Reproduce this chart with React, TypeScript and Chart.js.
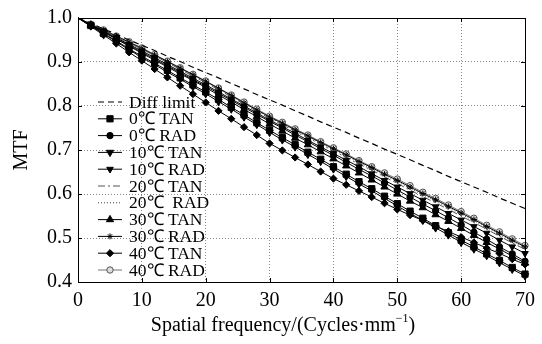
import React, { useEffect, useRef } from "react";
import { Chart, registerables } from "chart.js";
import { drawPoint } from "chart.js/helpers";

Chart.register(...registerables);

const freq = [0, 2, 4, 6, 8, 10, 12, 14, 16, 18, 20, 22, 24, 26, 28, 30, 32, 34, 36, 38, 40, 42, 44, 46, 48, 50, 52, 54, 56, 58, 60, 62, 64, 66, 68, 70];

const diffLimit = [1.000, 0.988, 0.975, 0.963, 0.950, 0.938, 0.926, 0.913, 0.901, 0.888, 0.876, 0.864, 0.851, 0.839, 0.826, 0.814, 0.802, 0.789, 0.777, 0.764, 0.752, 0.740, 0.727, 0.715, 0.702, 0.690, 0.678, 0.665, 0.653, 0.640, 0.628, 0.616, 0.604, 0.591, 0.579, 0.567];
const tan0 = [1.000, 0.983, 0.965, 0.948, 0.930, 0.913, 0.897, 0.881, 0.864, 0.848, 0.832, 0.815, 0.797, 0.780, 0.762, 0.745, 0.728, 0.712, 0.695, 0.679, 0.662, 0.645, 0.628, 0.612, 0.595, 0.578, 0.561, 0.545, 0.528, 0.512, 0.495, 0.480, 0.464, 0.449, 0.433, 0.418];
const rad0 = [1.000, 0.984, 0.969, 0.953, 0.938, 0.922, 0.907, 0.891, 0.876, 0.860, 0.845, 0.829, 0.813, 0.797, 0.781, 0.765, 0.750, 0.734, 0.719, 0.703, 0.688, 0.672, 0.656, 0.641, 0.625, 0.609, 0.593, 0.577, 0.562, 0.546, 0.530, 0.513, 0.497, 0.480, 0.464, 0.447];
const tan10 = [1.000, 0.982, 0.964, 0.946, 0.928, 0.910, 0.894, 0.877, 0.861, 0.844, 0.828, 0.810, 0.793, 0.775, 0.758, 0.740, 0.723, 0.707, 0.690, 0.674, 0.657, 0.640, 0.623, 0.607, 0.590, 0.573, 0.556, 0.540, 0.523, 0.507, 0.490, 0.475, 0.460, 0.444, 0.429, 0.414];
const rad10 = [1.000, 0.985, 0.970, 0.955, 0.940, 0.925, 0.910, 0.894, 0.879, 0.863, 0.848, 0.832, 0.816, 0.800, 0.784, 0.768, 0.753, 0.738, 0.722, 0.707, 0.692, 0.677, 0.662, 0.646, 0.631, 0.616, 0.601, 0.586, 0.571, 0.556, 0.541, 0.526, 0.511, 0.495, 0.480, 0.465];
const tan20 = [1.000, 0.986, 0.972, 0.957, 0.943, 0.929, 0.914, 0.899, 0.883, 0.868, 0.853, 0.837, 0.821, 0.804, 0.788, 0.772, 0.757, 0.742, 0.728, 0.713, 0.698, 0.683, 0.668, 0.654, 0.639, 0.624, 0.609, 0.594, 0.580, 0.565, 0.550, 0.535, 0.520, 0.504, 0.489, 0.474];
const rad20 = [1.000, 0.986, 0.972, 0.958, 0.944, 0.930, 0.915, 0.900, 0.885, 0.870, 0.855, 0.839, 0.823, 0.806, 0.790, 0.774, 0.759, 0.745, 0.730, 0.716, 0.701, 0.686, 0.672, 0.657, 0.643, 0.628, 0.613, 0.598, 0.584, 0.569, 0.554, 0.539, 0.524, 0.508, 0.493, 0.478];
const tan30 = [1.000, 0.984, 0.968, 0.952, 0.936, 0.920, 0.904, 0.889, 0.873, 0.858, 0.842, 0.825, 0.809, 0.792, 0.776, 0.759, 0.743, 0.727, 0.712, 0.696, 0.680, 0.664, 0.648, 0.632, 0.616, 0.600, 0.584, 0.569, 0.553, 0.538, 0.522, 0.506, 0.490, 0.475, 0.459, 0.443];
const rad30 = [1.000, 0.986, 0.972, 0.959, 0.945, 0.931, 0.916, 0.901, 0.886, 0.871, 0.856, 0.840, 0.824, 0.807, 0.791, 0.775, 0.761, 0.746, 0.732, 0.717, 0.703, 0.689, 0.674, 0.660, 0.645, 0.631, 0.616, 0.601, 0.587, 0.572, 0.557, 0.542, 0.526, 0.511, 0.495, 0.480];
const tan40 = [1.000, 0.981, 0.961, 0.942, 0.922, 0.903, 0.884, 0.865, 0.846, 0.827, 0.808, 0.789, 0.771, 0.752, 0.734, 0.715, 0.699, 0.683, 0.667, 0.651, 0.635, 0.621, 0.607, 0.593, 0.579, 0.565, 0.552, 0.540, 0.527, 0.515, 0.502, 0.490, 0.477, 0.465, 0.452, 0.440];
const rad40 = [1.000, 0.986, 0.973, 0.959, 0.946, 0.932, 0.917, 0.902, 0.887, 0.872, 0.857, 0.841, 0.825, 0.809, 0.793, 0.777, 0.763, 0.748, 0.734, 0.719, 0.705, 0.691, 0.676, 0.662, 0.648, 0.634, 0.619, 0.604, 0.590, 0.575, 0.560, 0.545, 0.529, 0.514, 0.498, 0.483];

const seriesLabels = ["Diff limit", "0℃ TAN", "0℃ RAD", "10℃ TAN", "10℃ RAD", "20℃ TAN", "20℃  RAD", "30℃ TAN", "30℃ RAD", "40℃ TAN", "40℃ RAD"];
const xTicks = [0, 10, 20, 30, 40, 50, 60, 70];
const yTicks = [0.4, 0.5, 0.6, 0.7, 0.8, 0.9, 1.0];
const xTitleMain = "Spatial frequency/(Cycles·mm";
const xTitleSup = "−1";
const yTitle = "MTF";

const FONT = "'Liberation Serif', 'Times New Roman', serif";

export default function App() {
  const ref = useRef<HTMLCanvasElement>(null);

  useEffect(() => {
    document.body.style.margin = "0";
    const canvas = ref.current;
    if (!canvas) return;
    const mk = (vals: number[]) => freq.map((x, i) => ({ x, y: vals[i] }));
    const values = [diffLimit, tan0, rad0, tan10, rad10, tan20, rad20, tan30, rad30, tan40, rad40];
    const styles: any[] = [
      { borderColor: "#000", borderDash: [6, 4], pointStyle: false, r: 0, borderWidth: 1.2 },
      { borderColor: "#000", pointStyle: "rect", r: 4.4, fill: "#000" },
      { borderColor: "#000", pointStyle: "circle", r: 3.2, fill: "#000" },
      { borderColor: "#000", pointStyle: "triangle", rot: 180, r: 4.2, fill: "#000" },
      { borderColor: "#000", pointStyle: "triangle", rot: 180, r: 3.8, fill: "#000" },
      { borderColor: "#555", borderDash: [7, 3, 2, 3], pointStyle: false, r: 0 },
      { borderColor: "#444", borderDash: [1, 2], pointStyle: false, r: 0 },
      { borderColor: "#000", pointStyle: "triangle", r: 4.2, fill: "#000" },
      { borderColor: "#000", pointStyle: "star", r: 3, fill: "#000" },
      { borderColor: "#000", pointStyle: "rectRot", r: 3.6, fill: "#000" },
      { borderColor: "#777", pointStyle: "circle", r: 3.2, fill: "#ddd", pb: "#555" },
    ];
    const datasets = values.map((v, i) => {
      const s = styles[i];
      return {
        label: seriesLabels[i],
        data: mk(v),
        borderColor: s.borderColor,
        borderWidth: s.borderWidth ?? 1,
        borderDash: s.borderDash ?? [],
        pointStyle: s.pointStyle,
        pointRotation: s.rot ?? 0,
        pointRadius: (c: any) => (c.dataIndex === 0 ? 0 : s.r),
        pointBackgroundColor: s.fill ?? "#000",
        pointBorderColor: s.pb ?? s.borderColor,
        pointBorderWidth: 1,
        tension: 0,
        clip: 8,
        fill: false,
      };
    });

    const framePlugin = {
      id: "frameAndLegend",
      afterDraw(chart: any) {
        const { ctx, chartArea: a } = chart;
        const xs = chart.scales.x;
        const ys = chart.scales.y;
        ctx.save();
        ctx.strokeStyle = "#000";
        ctx.lineWidth = 1;
        ctx.setLineDash([]);
        ctx.strokeRect(Math.round(a.left) + 0.5, Math.round(a.top) + 0.5, Math.round(a.right - a.left), Math.round(a.bottom - a.top));
        ctx.beginPath();
        const tl = 4;
        xTicks.forEach((t) => {
          const px = Math.round(xs.getPixelForValue(t)) + 0.5;
          ctx.moveTo(px, a.bottom);
          ctx.lineTo(px, a.bottom - tl);
          ctx.moveTo(px, a.top);
          ctx.lineTo(px, a.top + tl);
        });
        yTicks.forEach((t) => {
          const py = Math.round(ys.getPixelForValue(t)) + 0.5;
          ctx.moveTo(a.left, py);
          ctx.lineTo(a.left + tl, py);
          ctx.moveTo(a.right, py);
          ctx.lineTo(a.right - tl, py);
        });
        ctx.stroke();

        // axis titles
        ctx.fillStyle = "#000";
        ctx.font = `20px ${FONT}`;
        ctx.textBaseline = "middle";
        ctx.textAlign = "left";
        const mainW = ctx.measureText(xTitleMain).width;
        ctx.font = `12px ${FONT}`;
        const supW = ctx.measureText(xTitleSup).width;
        ctx.font = `20px ${FONT}`;
        const closeW = ctx.measureText(")").width;
        const total = mainW + supW + closeW;
        const cx = 283;
        const ty = 326;
        let x0 = cx - total / 2;
        ctx.fillText(xTitleMain, x0, ty);
        ctx.font = `12px ${FONT}`;
        ctx.fillText(xTitleSup, x0 + mainW, ty - 7);
        ctx.font = `20px ${FONT}`;
        ctx.fillText(")", x0 + mainW + supW, ty);

        ctx.save();
        ctx.translate(22, (a.top + a.bottom) / 2);
        ctx.rotate(-Math.PI / 2);
        ctx.textAlign = "center";
        ctx.fillText(yTitle, 0, 0);
        ctx.restore();

        // legend inside the plot
        const lx0 = a.left + 20;
        const lx1 = a.left + 44;
        const tx = a.left + 51;
        const ty0 = a.top + 84;
        const step = 16.8;
        ctx.font = `17.5px ${FONT}`;
        ctx.textBaseline = "middle";
        ctx.textAlign = "left";
        chart.data.datasets.forEach((ds: any, i: number) => {
          const s = styles[i];
          const y = ty0 + i * step;
          ctx.strokeStyle = ds.borderColor;
          ctx.lineWidth = ds.borderWidth;
          ctx.setLineDash(ds.borderDash || []);
          ctx.beginPath();
          ctx.moveTo(lx0, y);
          ctx.lineTo(lx1, y);
          ctx.stroke();
          ctx.setLineDash([]);
          if (s.pointStyle) {
            ctx.fillStyle = ds.pointBackgroundColor;
            ctx.strokeStyle = ds.pointBorderColor;
            ctx.lineWidth = 1;
            drawPoint(ctx, { pointStyle: s.pointStyle, radius: s.r, rotation: s.rot ?? 0, borderWidth: 1 } as any, (lx0 + lx1) / 2, y);
          }
          ctx.fillStyle = "#000";
          ctx.fillText(ds.label, tx, y + 1);
        });
        ctx.restore();
      },
    };

    const chart = new Chart(canvas, {
      type: "line",
      data: { datasets },
      options: {
        animation: false,
        responsive: false,
        maintainAspectRatio: false,
        layout: { padding: { top: 18, right: 9, left: 0, bottom: 0 } },
        plugins: { legend: { display: false }, tooltip: { enabled: false } },
        elements: { line: { borderCapStyle: "butt" } },
        scales: {
          x: {
            type: "linear",
            min: 0,
            max: 70,
            afterBuildTicks: (sc: any) => {
              sc.ticks = xTicks.map((v) => ({ value: v }));
            },
            afterFit: (sc: any) => {
              sc.height = 62;
            },
            ticks: {
              color: "#000",
              font: { family: FONT, size: 20 },
              padding: 7,
              maxRotation: 0,
              callback: (v: any) => String(v),
            },
            grid: {
              color: "#888",
              lineWidth: 1,
              drawTicks: false,
            },
            border: { display: false, dash: [1, 2] },
            title: { display: false },
          },
          y: {
            type: "linear",
            min: 0.4,
            max: 1.0,
            afterBuildTicks: (sc: any) => {
              sc.ticks = yTicks.map((v) => ({ value: v }));
            },
            afterFit: (sc: any) => {
              sc.width = 78;
            },
            ticks: {
              color: "#000",
              font: { family: FONT, size: 20 },
              padding: 6,
              callback: (v: any) => Number(v).toFixed(1),
            },
            grid: {
              color: "#888",
              lineWidth: 1,
              drawTicks: false,
            },
            border: { display: false, dash: [1, 2] },
            title: { display: false },
          },
        },
      },
      plugins: [framePlugin],
    });
    return () => chart.destroy();
  }, []);

  return (
    <div style={{ width: 542, height: 344, background: "#fff" }}>
      <canvas ref={ref} width={542} height={344} />
    </div>
  );
}
